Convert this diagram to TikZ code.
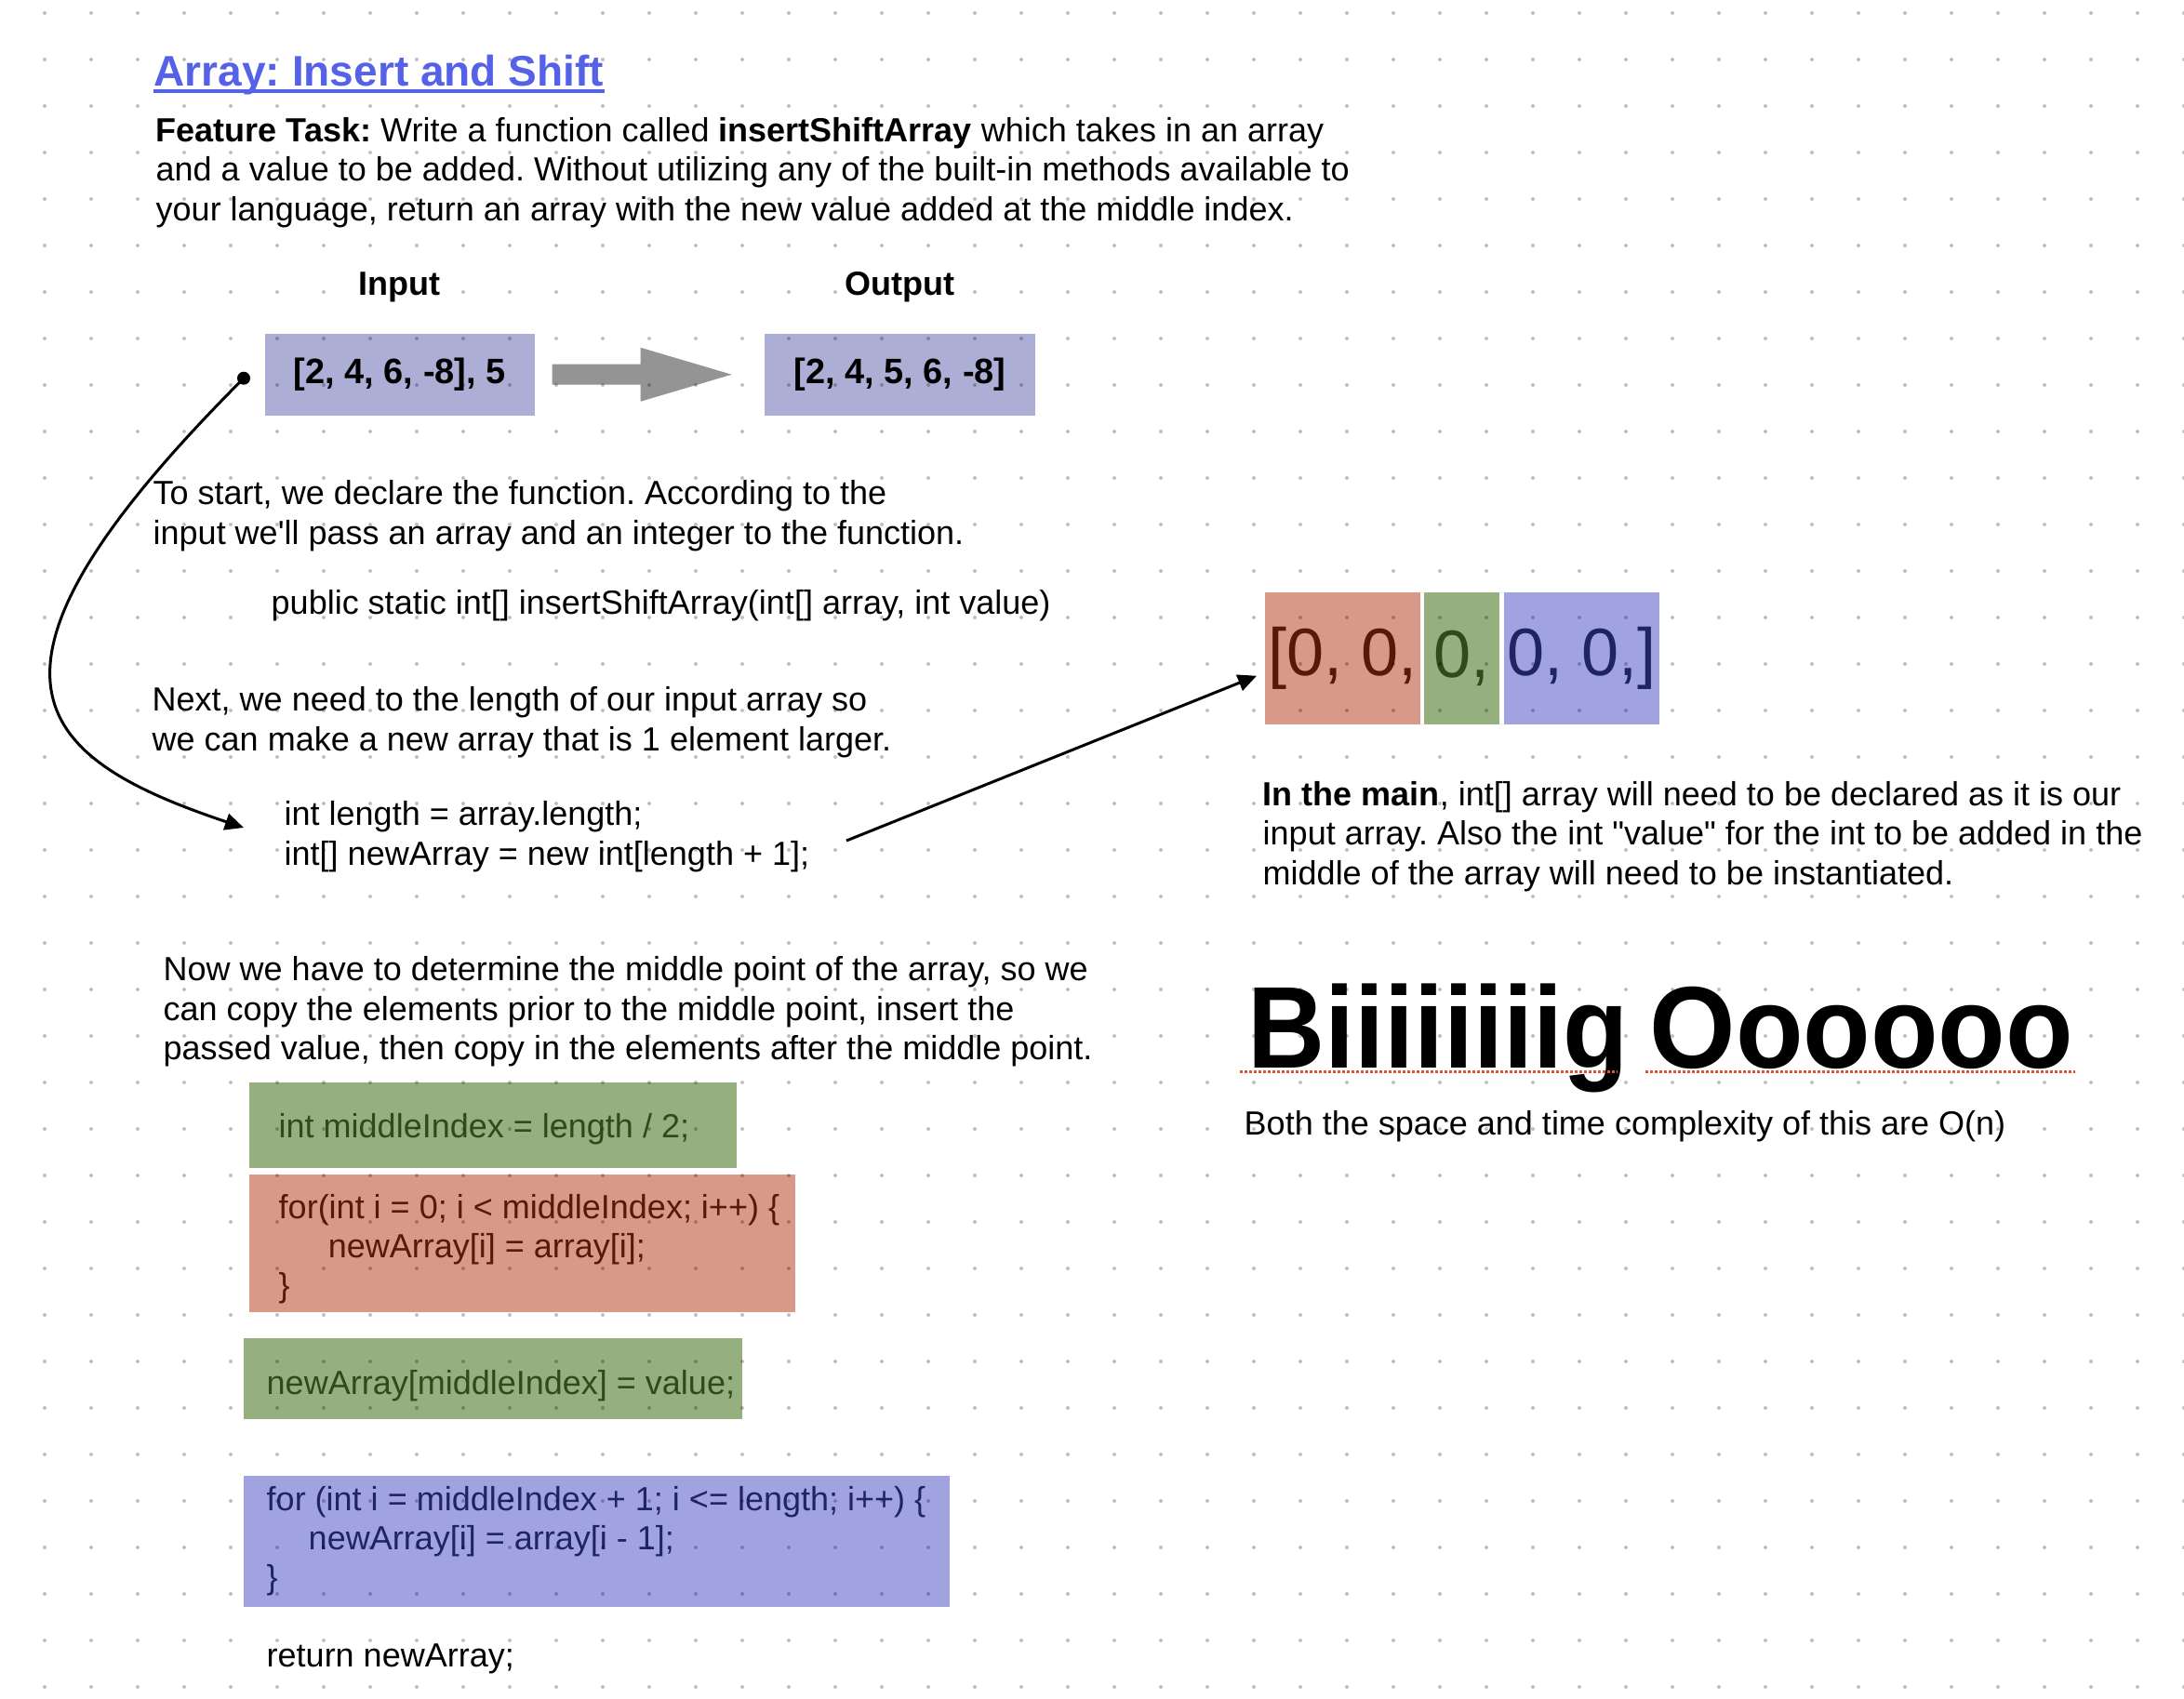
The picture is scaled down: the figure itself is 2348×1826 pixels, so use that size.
\documentclass[tikz,border=0pt]{standalone}
\usepackage{fontspec}
\setmainfont{Liberation Sans}[Ligatures=TeXOff]
\usetikzlibrary{positioning, arrows.meta, calc}
\frenchspacing

\definecolor{titleblue}{RGB}{85,98,232}
\definecolor{boxlilac}{RGB}{173,174,214}
\definecolor{arrowgray}{RGB}{148,148,148}
\definecolor{cellred}{RGB}{216,153,137}
\definecolor{cellgreen}{RGB}{150,175,127}
\definecolor{cellblue}{RGB}{161,163,225}
\definecolor{inkred}{RGB}{88,24,10}
\definecolor{inkgreen}{RGB}{47,74,28}
\definecolor{inkblue}{RGB}{32,36,96}
\definecolor{spellred}{RGB}{217,85,55}

\pgfdeclarelayer{dotlayer}
\pgfsetlayers{main,dotlayer}

\begin{document}
\begin{tikzpicture}[
  x=0.01cm, y=-0.01cm,
  font=\fontsize{10.24pt}{11.95pt}\selectfont,
  note/.style={anchor=base west, inner sep=0pt, align=left},
  headline/.style={note, text=titleblue, font=\fontsize{13.09pt}{15pt}\selectfont\bfseries},
  heading/.style={inner sep=0pt, font=\fontsize{10.24pt}{11.95pt}\selectfont\bfseries},
  valbox/.style={fill=boxlilac, minimum width=2.9cm, minimum height=0.88cm, inner sep=0pt,
    font=\fontsize{10.8pt}{12pt}\selectfont\bfseries},
  codebox/.style={anchor=north west, inner sep=0pt},
  codetext/.style={inner sep=0pt, align=left, font=\fontsize{10.24pt}{11.95pt}\selectfont},
  cell/.style={minimum height=1.42cm, inner sep=0pt, font=\fontsize{20.5pt}{24pt}\selectfont},
  bigword/.style={anchor=base west, inner sep=0pt, font=\fontsize{35.57pt}{40pt}\selectfont\bfseries},
  flow/.style={-{Triangle[length=0.2cm,width=0.18cm]}, line width=0.03cm},
  spellmark/.style={draw=spellred, line width=0.03cm, dash pattern=on 0.03cm off 0.02cm},
  griddot/.style={fill=black, fill opacity=0.25},
]

\useasboundingbox (0,0) rectangle (2348,1826);
\fill[white] (0,0) rectangle (2348,1826);

% heading and task (multi-line notes sit on their last baseline)
\node[headline] (title) at (165,92) {Array: Insert and Shift};
\draw[titleblue, line width=0.04cm] ($(title.base west)+(0,6)$) -- ($(title.base east)+(0,6)$);

\node[note] (task) at (167,237) {\textbf{Feature Task:} Write a function called \textbf{insertShiftArray} which takes in an array\\and a value to be added. Without utilizing any of the built-in methods available to\\your language, return an array with the new value added at the middle index.};

% input -> output
\node[valbox, anchor=north west] (input) at (284,358) {[2, 4, 6, -8], 5};
\node[valbox, right=2.46cm of input] (output) {[2, 4, 5, 6, -8]};
\node[heading, above=0.32cm of input] (inlabel) {Input};
\node[heading, above=0.32cm of output] (outlabel) {Output};

\fill[arrowgray] ($(input.east)+(18,-11)$) -- ++(95,0) -- ++(0,-18)
  -- ($(input.east)+(211,0)$) -- ($(input.east)+(113,29)$) -- ++(0,-18)
  -- ($(input.east)+(18,11)$) -- cycle;

% walkthrough
\node[note] (start) at (164,585) {To start, we declare the function. According to the\\input we'll pass an array and an integer to the function.};
\node[note] (signature) at (291,660) {public static int[] insertShiftArray(int[] array, int value)};
\node[note] (next) at (163,807) {Next, we need to the length of our input array so\\we can make a new array that is 1 element larger.};
\node[note] (lencode) at (305,930) {int length = array.length;\\int[] newArray = new int[length + 1];};
\node[note] (middle) at (175,1139) {Now we have to determine the middle point of the array, so we\\can copy the elements prior to the middle point, insert the\\passed value, then copy in the elements after the middle point.};

% code blocks
\node[codebox, fill=cellgreen, minimum width=5.24cm, minimum height=0.92cm] (midbox) at (267,1163) {};
\node[codetext, text=inkgreen, right=0.32cm of midbox.west, yshift=-0.04cm] (midcode) {int middleIndex = length / 2;};

\node[codebox, fill=cellred, minimum width=5.87cm, minimum height=1.48cm] (leftbox) at (267,1262) {};
\node[codetext, text=inkred, right=0.32cm of leftbox.west, yshift=-0.06cm] (leftloop) {for(int i = 0; i < middleIndex; i++) \{\\\hspace*{0.53cm}newArray[i] = array[i];\\\}};

\node[codebox, fill=cellgreen, minimum width=5.36cm, minimum height=0.87cm] (putbox) at (261,1438) {};
\node[codetext, text=inkgreen, right=0.25cm of putbox.west, yshift=-0.08cm] (putcode) {newArray[middleIndex] = value;};

\node[codebox, fill=cellblue, minimum width=7.59cm, minimum height=1.41cm] (rightbox) at (261,1586) {};
\node[codetext, text=inkblue, right=0.25cm of rightbox.west] (rightloop) {for (int i = middleIndex + 1; i <= length; i++) \{\\\hspace*{0.45cm}newArray[i] = array[i - 1];\\\}};

\node[note] (retcode) at (286,1792) {return newArray;};

% new array cells
\node[cell, anchor=north west, fill=cellred, text=inkred, minimum width=1.67cm] (zred) at (1359,636) {[0, 0,};
\node[cell, right=0.03cm of zred, fill=cellgreen, text=inkgreen, minimum width=0.81cm] (zgreen) {0,};
\node[cell, right=0.03cm of zgreen, fill=cellblue, text=inkblue, minimum width=1.67cm] (zblue) {0, 0,]};

\node[note] (mainnote) at (1357,951) {\textbf{In the main}, int[] array will need to be declared as it is our\\input array. Also the int "value" for the int to be added in the\\middle of the array will need to be instantiated.};

\node[bigword] (bigi) at (1341,1148) {\scalebox{0.92}[1]{Biiiiiiiig}};
\node[bigword] (bigo) at (1773,1148) {\scalebox{0.95}[1]{Oooooo}};
\draw[spellmark] ($(bigi.base west)+(-8,4)$) -- ($(bigi.base west)+(398,4)$);
\draw[spellmark] ($(bigo.base west)+(-4,4)$) -- ($(bigo.base west)+(458,4)$);

\node[note] (complexity) at (1337,1220) {Both the space and time complexity of this are O(n)};

% connectors
\coordinate (tail) at ($(input.west)+(-22,4)$);
\coordinate (head) at ($(lencode.base west)+(-43,-40)$);
\fill (tail) circle (0.07cm);
\draw[flow] (tail) .. controls +(-320,320) and +(-227,-76) .. (head);

\coordinate (lenout) at ($(lencode.base west)+(605,-26)$);
\coordinate (zin) at ($(zred.west)+(-8,19)$);
\draw[flow] (lenout) -- (zin);

% dot grid
\begin{pgfonlayer}{dotlayer}
\foreach \gx in {48,98,...,2348}
  \foreach \gy in {14,64,...,1814}
    \fill[griddot] (\gx,\gy) circle (0.02cm);
\end{pgfonlayer}

\end{tikzpicture}
\end{document}
